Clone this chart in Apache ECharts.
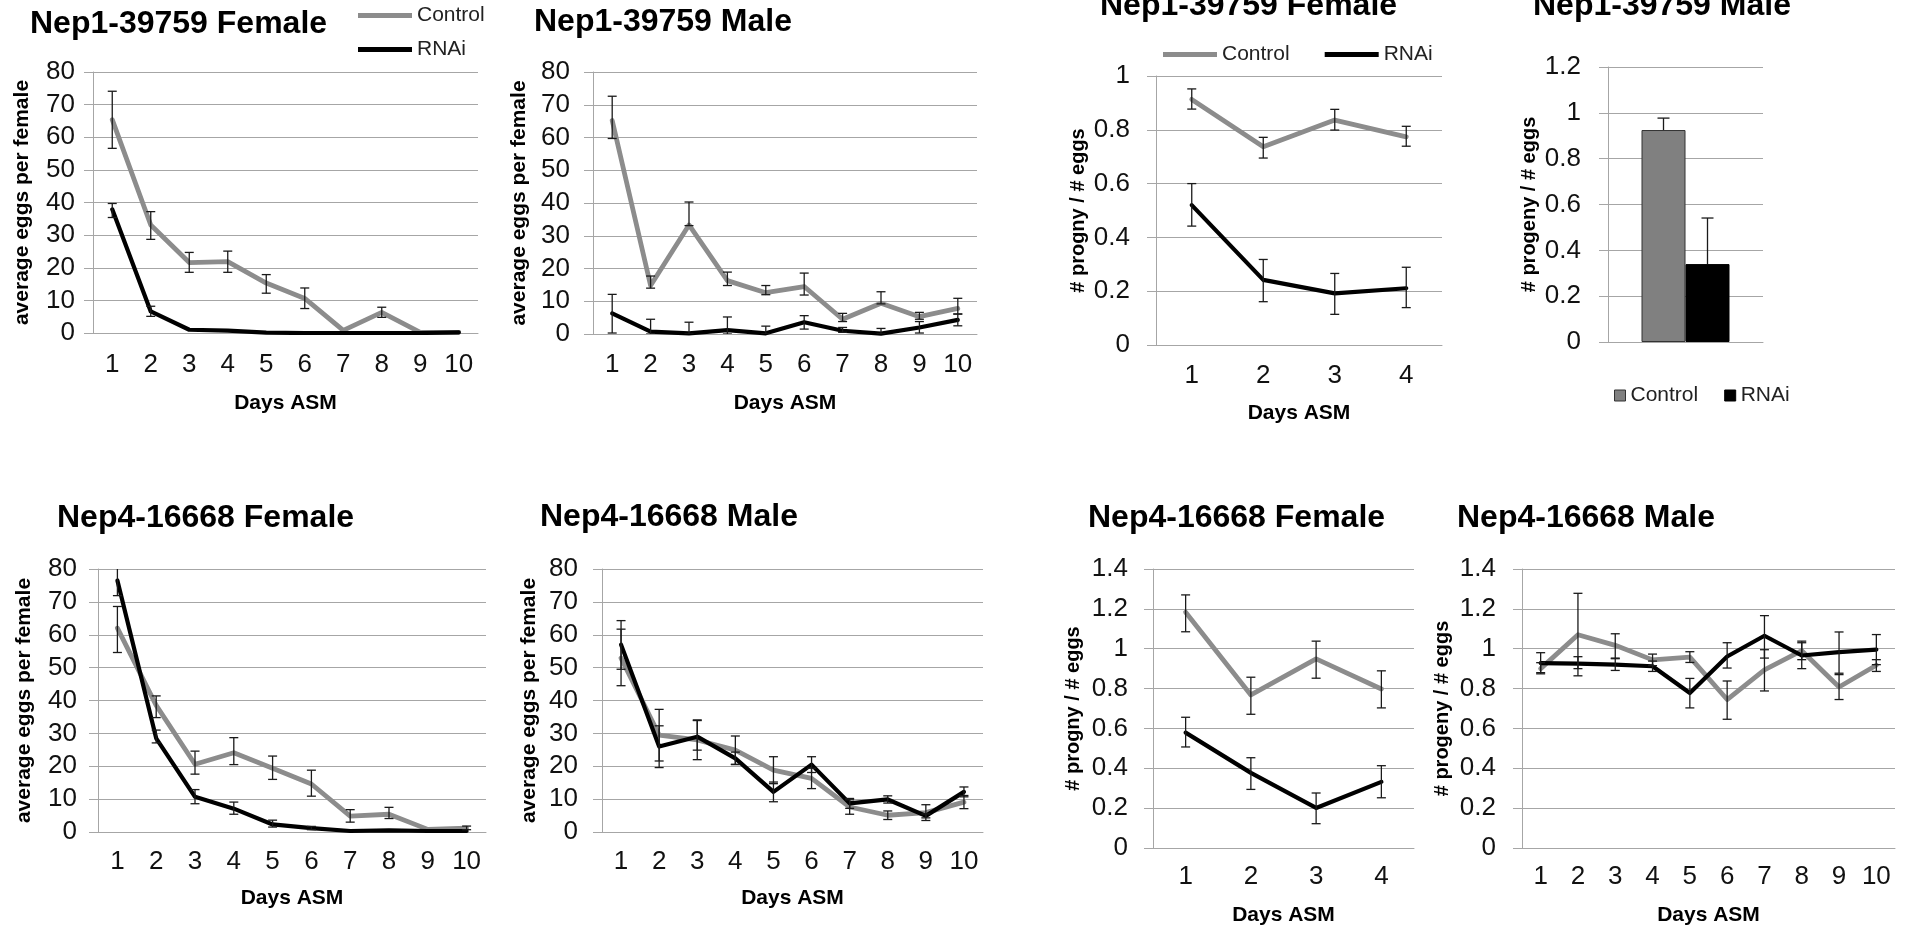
<!DOCTYPE html>
<html>
<head>
<meta charset="utf-8">
<script src="https://cdn.jsdelivr.net/npm/echarts@6/dist/echarts.min.js"></script>
<style>html,body{margin:0;padding:0;background:#fff}#c{width:1905px;height:927px}</style>
</head>
<body>
<div id="c"></div>
<script>
// ---------- categories ----------
const days10 = ['1','2','3','4','5','6','7','8','9','10'];
const days4 = ['1','2','3','4'];
const barCats = [''];

// ---------- Nep1-39759 Female : average eggs per female ----------
const aCtrl   = [65.4, 33.1, 21.6, 21.9, 15.3, 10.6, 0.8, 6.3, 0.2, 0.2];
const aCtrlLo = [56.6, 28.7, 18.6, 18.6, 12.2, 7.5, null, 4.8, null, null];
const aCtrlHi = [74.1, 37.2, 24.7, 25.1, 17.9, 13.8, null, 7.9, null, null];
const aRnai   = [37.9, 6.6, 1.0, 0.7, 0.1, 0, 0, 0, 0, 0.2];
const aRnaiLo = [35.4, 5.1, null, null, null, null, null, null, null, null];
const aRnaiHi = [39.7, 8.2, null, null, null, null, null, null, null, null];

// ---------- Nep1-39759 Male : average eggs ----------
const bCtrl   = [65.2, 14.8, 33.3, 16.3, 12.6, 14.5, 4.5, 9.4, 5.3, 7.8];
const bCtrlLo = [59.7, 14.0, 33.1, 14.8, 12.0, 11.9, 3.8, 9.2, 4.5, 6.1];
const bCtrlHi = [72.6, 17.7, 40.3, 18.9, 14.8, 18.6, 6.3, 12.9, 6.6, 10.9];
const bRnai   = [6.3, 0.7, 0.2, 1.2, 0.2, 3.6, 1.0, 0.1, 2.0, 4.3];
const bRnaiLo = [0.3, 0, 0, 0, 0, 1.5, 0.5, 0, 0.3, 2.5];
const bRnaiHi = [12.1, 4.5, 3.6, 5.2, 2.4, 5.6, 2.0, 1.7, 3.8, 6.1];

// ---------- Nep1-39759 Female : # progny / # eggs ----------
const cCtrl   = [0.913, 0.737, 0.836, 0.774];
const cCtrlLo = [0.877, 0.695, 0.799, 0.739];
const cCtrlHi = [0.952, 0.772, 0.876, 0.813];
const cRnai   = [0.520, 0.242, 0.192, 0.211];
const cRnaiLo = [0.442, 0.161, 0.114, 0.139];
const cRnaiHi = [0.600, 0.318, 0.266, 0.289];

// ---------- Nep1-39759 Male : # progeny / # eggs (bars) ----------
const dCtrl   = [0.925];
const dCtrlHi = [0.977];
const dRnai   = [0.340];
const dRnaiHi = [0.541];

// ---------- Nep4-16668 Female : average eggs ----------
const eCtrl   = [62.0, 38.5, 20.6, 24.1, 19.4, 14.6, 4.8, 5.4, 0.8, 1.2];
const eCtrlLo = [54.6, 34.8, 17.6, 20.5, 16.0, 10.9, 3.0, 4.1, null, 0.7];
const eCtrlHi = [68.6, 41.4, 24.6, 28.7, 23.1, 18.8, 6.8, 7.5, null, 1.8];
const eRnai   = [76.5, 28.5, 10.7, 7.1, 2.3, 1.2, 0.3, 0.5, 0.3, 0.3];
const eRnaiLo = [71.9, 27.1, 8.6, 5.4, 1.5, 0.7, null, null, null, null];
const eRnaiHi = [81.1, 31.0, 12.9, 9.1, 3.6, 1.7, null, null, null, null];

// ---------- Nep4-16668 Male : average eggs ----------
const fCtrl   = [52.9, 29.5, 28.0, 24.9, 18.8, 16.3, 7.6, 5.1, 5.9, 9.1];
const fCtrlLo = [44.5, 21.6, 22.0, 20.6, 14.7, 13.2, 5.4, 3.8, 3.5, 7.1];
const fCtrlHi = [61.7, 37.3, 33.9, 29.2, 22.9, 19.4, 9.8, 6.4, 8.3, 11.1];
const fRnai   = [57.0, 26.0, 29.0, 22.4, 12.2, 20.5, 8.7, 9.9, 4.9, 12.2];
const fRnaiLo = [49.5, 19.6, 24.9, 20.5, 9.2, 18.1, 7.2, 8.8, 4.3, 10.7];
const fRnaiHi = [64.3, 32.3, 34.1, 24.3, 15.2, 22.9, 10.2, 11.0, 5.5, 13.7];

// ---------- Nep4-16668 Female : # progny / # eggs ----------
const gCtrl   = [1.183, 0.768, 0.949, 0.798];
const gCtrlLo = [1.085, 0.671, 0.852, 0.703];
const gCtrlHi = [1.270, 0.857, 1.038, 0.889];
const gRnai   = [0.579, 0.377, 0.201, 0.332];
const gRnaiLo = [0.507, 0.294, 0.122, 0.252];
const gRnaiHi = [0.656, 0.453, 0.276, 0.413];

// ---------- Nep4-16668 Male : # progeny / # eggs ----------
const hCtrl   = [0.900, 1.070, 1.017, 0.944, 0.958, 0.745, 0.894, 0.990, 0.808, 0.917];
const hCtrlLo = [0.880, 0.864, 0.953, 0.915, 0.931, 0.646, 0.788, 0.945, 0.745, 0.886];
const hCtrlHi = [0.930, 1.278, 1.075, 0.973, 0.985, 0.838, 0.995, 1.030, 0.870, 0.945];
const hRnai   = [0.928, 0.925, 0.920, 0.912, 0.778, 0.961, 1.065, 0.966, 0.983, 0.995];
const hRnaiLo = [0.874, 0.900, 0.891, 0.886, 0.703, 0.903, 0.953, 0.900, 0.877, 0.920];
const hRnaiHi = [0.980, 0.960, 0.950, 0.938, 0.851, 1.030, 1.166, 1.038, 1.084, 1.071];

// ---------- styling ----------
const FONT = '"Liberation Sans", Arial, Helvetica, sans-serif';
const GRID_COLOR = '#a6a6a6';
const CTRL_COLOR = '#8c8c8c';
const RNAI_COLOR = '#000000';
const BAR_CTRL = '#808080';
const ERR_COLOR = '#1a1a1a';
const TICK_SIZE = 26;

const panels = [
  {title:'Nep1-39759 Female', tl:30, tt:8, grid:{left:93, top:72, width:385, height:261},
   cats:days10, ymax:80, yint:10, yname:'average eggs per female', yGap:60, yNameSize:21, ylm:18, xlm:19, xGap:60,
   ctrl:[aCtrl,aCtrlLo,aCtrlHi], rnai:[aRnai,aRnaiLo,aRnaiHi]},
  {title:'Nep1-39759 Male', tl:534, tt:6, grid:{left:593, top:72, width:384, height:262},
   cats:days10, ymax:80, yint:10, yname:'average eggs per female', yGap:63, yNameSize:21, ylm:23, xlm:18, xGap:59,
   ctrl:[bCtrl,bCtrlLo,bCtrlHi], rnai:[bRnai,bRnaiLo,bRnaiHi]},
  {title:'Nep1-39759 Female', tl:1100, tt:-10, grid:{left:1156, top:76, width:286, height:269},
   cats:days4, ymax:1, yint:0.2, yname:'# progny / # eggs', yGap:68, yNameSize:20, ylm:26, xlm:18, xGap:58,
   ctrl:[cCtrl,cCtrlLo,cCtrlHi], rnai:[cRnai,cRnaiLo,cRnaiHi]},
  {title:'Nep1-39759 Male', tl:1533, tt:-10, grid:{left:1608, top:67, width:155, height:275},
   cats:barCats, ymax:1.2, yint:0.2, yname:'# progeny / # eggs', yGap:69, yNameSize:20, ylm:27, xlm:18, xGap:58,
   bar:true, ctrl:[dCtrl,null,dCtrlHi], rnai:[dRnai,null,dRnaiHi]},
  {title:'Nep4-16668 Female', tl:57, tt:502, grid:{left:98, top:569, width:388, height:263},
   cats:days10, ymax:80, yint:10, yname:'average eggs per female', yGap:63, yNameSize:21, ylm:21, xlm:17, xGap:56,
   ctrl:[eCtrl,eCtrlLo,eCtrlHi], rnai:[eRnai,eRnaiLo,eRnaiHi]},
  {title:'Nep4-16668 Male', tl:540, tt:501, grid:{left:602, top:569, width:381, height:263},
   cats:days10, ymax:80, yint:10, yname:'average eggs per female', yGap:62, yNameSize:21, ylm:24, xlm:17, xGap:56,
   ctrl:[fCtrl,fCtrlLo,fCtrlHi], rnai:[fRnai,fRnaiLo,fRnaiHi]},
  {title:'Nep4-16668 Female', tl:1088, tt:502, grid:{left:1153, top:569, width:261, height:279},
   cats:days4, ymax:1.4, yint:0.2, yname:'# progny / # eggs', yGap:70, yNameSize:20, ylm:25, xlm:16, xGap:57,
   ctrl:[gCtrl,gCtrlLo,gCtrlHi], rnai:[gRnai,gRnaiLo,gRnaiHi]},
  {title:'Nep4-16668 Male', tl:1457, tt:502, grid:{left:1522, top:569, width:373, height:279},
   cats:days10, ymax:1.4, yint:0.2, yname:'# progeny / # eggs', yGap:70, yNameSize:20, ylm:26, xlm:16, xGap:57,
   ctrl:[hCtrl,hCtrlLo,hCtrlHi], rnai:[hRnai,hRnaiLo,hRnaiHi]}
];

const BAR_W = 44;

function errRenderer(offset, capHalf, lowerCap) {
  return function (params, api) {
    const i = api.value(0), lo = api.value(1), hi = api.value(2);
    const pHi = api.coord([i, hi]);
    const pLo = api.coord([i, lo]);
    const x = pHi[0] + offset;
    const style = {stroke: ERR_COLOR, lineWidth: 1.3, fill: null};
    const ch = [
      {type:'line', shape:{x1:x, y1:pHi[1], x2:x, y2:pLo[1]}, style: style},
      {type:'line', shape:{x1:x-capHalf, y1:pHi[1], x2:x+capHalf, y2:pHi[1]}, style: style}
    ];
    if (lowerCap) ch.push({type:'line', shape:{x1:x-capHalf, y1:pLo[1], x2:x+capHalf, y2:pLo[1]}, style: style});
    return {type:'group', children: ch};
  };
}

function errData(vals, lo, hi) {
  const out = [];
  for (let i = 0; i < vals.length; i++) {
    const l = lo ? lo[i] : vals[i];
    if (l == null || hi[i] == null) continue;
    out.push([i, l, hi[i]]);
  }
  return out;
}

const option = {
  animation: false,
  backgroundColor: '#ffffff',
  textStyle: {fontFamily: FONT},
  title: [], grid: [], xAxis: [], yAxis: [], series: [],
  legend: [
    {orient:'vertical', left:358, top:5, padding:0, itemWidth:54, itemHeight:5, itemGap:13, icon:'rect',
     selectedMode:false, textStyle:{fontFamily:FONT, fontSize:21, color:'#222'},
     data:[{name:'Control', itemStyle:{color:CTRL_COLOR}}, {name:'RNAi', itemStyle:{color:RNAI_COLOR}}]},
    {orient:'horizontal', left:1163, top:44, padding:0, itemWidth:54, itemHeight:5, itemGap:35, icon:'rect',
     selectedMode:false, textStyle:{fontFamily:FONT, fontSize:21, color:'#222'},
     data:[{name:'Control', itemStyle:{color:CTRL_COLOR}}, {name:'RNAi', itemStyle:{color:RNAI_COLOR}}]},
    {orient:'horizontal', left:1614, top:385, padding:0, itemWidth:11, itemHeight:11, itemGap:26, icon:'rect',
     selectedMode:false, textStyle:{fontFamily:FONT, fontSize:21, color:'#222'},
     data:[{name:'Control', itemStyle:{color:BAR_CTRL, borderColor:'#333', borderWidth:1}},
           {name:'RNAi', itemStyle:{color:RNAI_COLOR, borderColor:'#000', borderWidth:1}}]}
  ]
};

panels.forEach(function (p, k) {
  option.title.push({text:p.title, left:p.tl, top:p.tt, padding:0,
    textStyle:{fontFamily:FONT, fontWeight:'bold', fontSize:32, color:'#000'}});
  option.grid.push(Object.assign({containLabel:false}, p.grid));
  option.xAxis.push({
    gridIndex:k, type:'category', data:p.cats, boundaryGap:true,
    axisLine:{show:true, lineStyle:{color:GRID_COLOR, width:1}},
    axisTick:{show:false},
    axisLabel:{show:!p.bar, interval:0, hideOverlap:false, fontFamily:FONT, fontSize:TICK_SIZE, color:'#111', margin:p.xlm},
    splitLine:{show:false},
    name: p.bar ? '' : 'Days ASM', nameLocation:'middle', nameGap:p.xGap,
    nameTextStyle:{fontFamily:FONT, fontWeight:'bold', fontSize:21, color:'#000'}
  });
  option.yAxis.push({
    gridIndex:k, type:'value', min:0, max:p.ymax, interval:p.yint,
    axisLine:{show:true, lineStyle:{color:GRID_COLOR, width:1}},
    axisTick:{show:true, length:9, lineStyle:{color:GRID_COLOR, width:1}},
    axisLabel:{fontFamily:FONT, fontSize:TICK_SIZE, color:'#111', margin:p.ylm},
    splitLine:{show:true, lineStyle:{color:GRID_COLOR, width:1}},
    name:p.yname, nameLocation:'middle', nameGap:p.yGap,
    nameTextStyle:{fontFamily:FONT, fontWeight:'bold', fontSize:p.yNameSize, color:'#000'}
  });
  if (p.bar) {
    option.series.push({name:'Control', type:'bar', xAxisIndex:k, yAxisIndex:k, data:p.ctrl[0],
      barWidth:BAR_W, barGap:'0%', itemStyle:{color:BAR_CTRL, borderColor:'#333', borderWidth:1}, z:2});
    option.series.push({name:'RNAi', type:'bar', xAxisIndex:k, yAxisIndex:k, data:p.rnai[0],
      barWidth:BAR_W, barGap:'0%', itemStyle:{color:RNAI_COLOR, borderColor:'#000', borderWidth:1}, z:2});
    option.series.push({name:'errC'+k, type:'custom', xAxisIndex:k, yAxisIndex:k, z:5, clip:true,
      renderItem: errRenderer(-BAR_W/2, 6, false), data: errData(p.ctrl[0], null, p.ctrl[2])});
    option.series.push({name:'errR'+k, type:'custom', xAxisIndex:k, yAxisIndex:k, z:5, clip:true,
      renderItem: errRenderer(BAR_W/2, 6, false), data: errData(p.rnai[0], null, p.rnai[2])});
  } else {
    option.series.push({name:'Control', type:'line', xAxisIndex:k, yAxisIndex:k, data:p.ctrl[0],
      showSymbol:false, symbol:'none', color:CTRL_COLOR,
      lineStyle:{color:CTRL_COLOR, width:4.8, cap:'round', join:'round'}, z:2});
    option.series.push({name:'RNAi', type:'line', xAxisIndex:k, yAxisIndex:k, data:p.rnai[0],
      showSymbol:false, symbol:'none', color:RNAI_COLOR,
      lineStyle:{color:RNAI_COLOR, width:4.2, cap:'round', join:'round'}, z:3});
    option.series.push({name:'errC'+k, type:'custom', xAxisIndex:k, yAxisIndex:k, z:5, clip:true,
      renderItem: errRenderer(0, 4.5, true), data: errData(p.ctrl[0], p.ctrl[1], p.ctrl[2])});
    option.series.push({name:'errR'+k, type:'custom', xAxisIndex:k, yAxisIndex:k, z:5, clip:true,
      renderItem: errRenderer(0, 4.5, true), data: errData(p.rnai[0], p.rnai[1], p.rnai[2])});
  }
});

const chart = echarts.init(document.getElementById('c'), null, {renderer:'canvas'});
chart.setOption(option);
</script>
</body>
</html>
